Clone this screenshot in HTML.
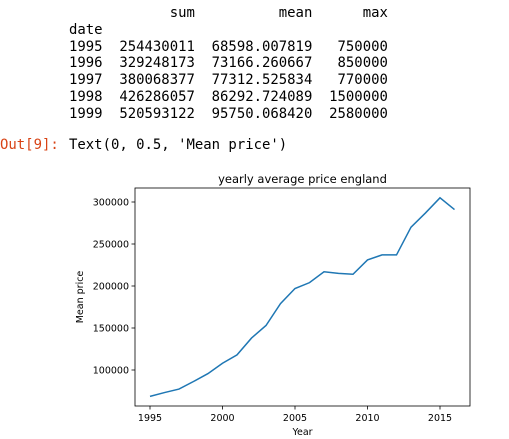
<!DOCTYPE html>
<html><head><meta charset="utf-8"><style>
body{margin:0;width:509px;height:439px;background:#fff;overflow:hidden;position:relative}
pre{position:absolute;margin:0;font-family:"DejaVu Sans Mono","Liberation Mono",monospace;font-size:13.95px;line-height:16.8px;color:#000}
</style></head><body>
<pre style="left:69px;top:5px">            sum          mean      max
date
1995  254430011  68598.007819   750000
1996  329248173  73166.260667   850000
1997  380068377  77312.525834   770000
1998  426286057  86292.724089  1500000
1999  520593122  95750.068420  2580000</pre>
<pre style="left:0;top:137px;color:#d84315">Out[9]:</pre>
<pre style="left:69px;top:137px">Text(0, 0.5, 'Mean price')</pre>
<svg id="chart" width="509" height="439" style="position:absolute;left:0;top:0" font-family="DejaVu Sans, Liberation Sans, sans-serif"></svg>
<script>
const years=[1995,1996,1997,1998,1999,2000,2001,2002,2003,2004,2005,2006,2007,2008,2009,2010,2011,2012,2013,2014,2015,2016];
const meanPrice=[68598,73166,77312,86292,95750,108000,118000,138000,153000,179000,197000,204000,217000,215000,214000,231000,237000,237000,270000,287000,305000,291000];
const xTicks=[1995,2000,2005,2010,2015];
const yTicks=[100000,150000,200000,250000,300000];
const NS="http://www.w3.org/2000/svg";
const svg=document.getElementById('chart');
const L=135,R=470,T=188,B=406;
const x=v=>150+(v-1995)*(440-150)/20;
const y=v=>370-(v-100000)*(168/200000);
function mk(t,a,txt){const e=document.createElementNS(NS,t);for(const k in a)e.setAttribute(k,a[k]);if(txt!==undefined)e.textContent=txt;svg.appendChild(e);return e;}
let p=mk('polyline',{points:years.map((yr,i)=>x(yr)+','+y(meanPrice[i])).join(' '),fill:'none',stroke:'#1f77b4','stroke-width':1.5});


let f=mk('rect',{x:L,y:T,width:R-L,height:B-T,fill:'none',stroke:'#000','stroke-width':0.8});


xTicks.forEach(v=>{
 mk('line',{x1:x(v),x2:x(v),y1:B,y2:B+3.5,stroke:'#000','stroke-width':0.8});
 let t=mk('text',{x:x(v),y:B+15,'font-size':9.5,'text-anchor':'middle'},String(v));
 
 
});
yTicks.forEach(v=>{
 mk('line',{x1:L-3.5,x2:L,y1:y(v),y2:y(v),stroke:'#000','stroke-width':0.8});
 let t=mk('text',{x:L-6,y:y(v)+3.5,'font-size':9.5,'text-anchor':'end'},String(v));
 
 
});
let tt=mk('text',{x:(L+R)/2,y:183,'font-size':11.5,'text-anchor':'middle'},'yearly average price england');


let xl=mk('text',{x:(L+R)/2,y:435,'font-size':9.5,'text-anchor':'middle'},'Year');


let yl=mk('text',{x:0,y:0,'font-size':9.5,'text-anchor':'middle',transform:'translate(83,297) rotate(-90)'},'Mean price');


</script>
</body></html>
